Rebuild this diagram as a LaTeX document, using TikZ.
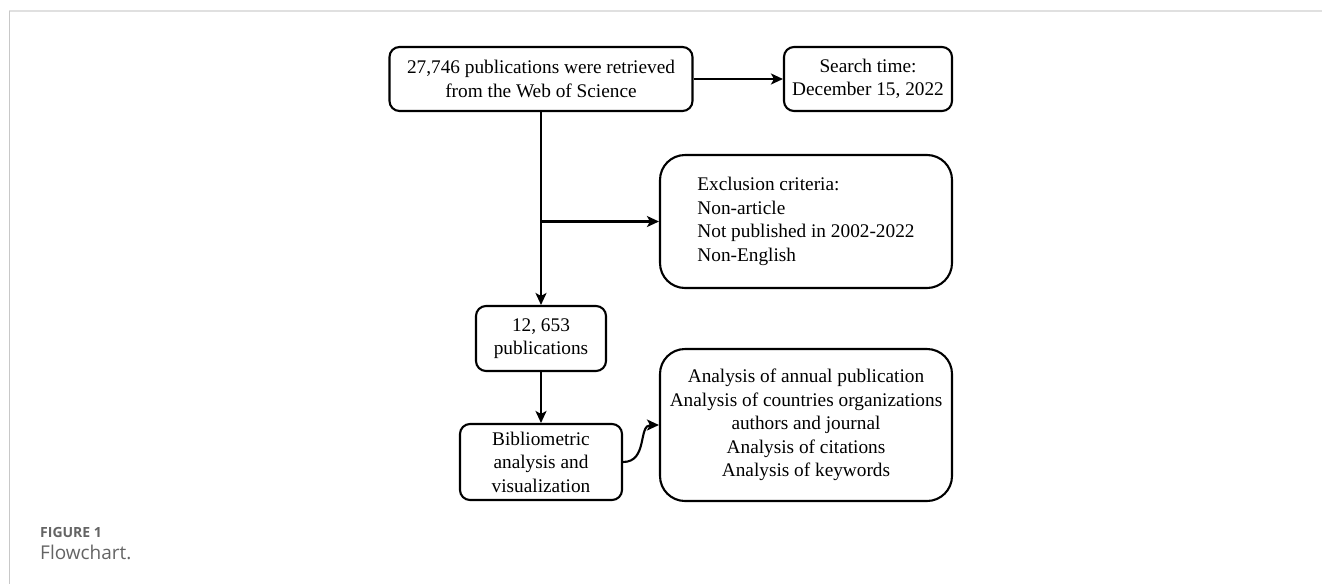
\documentclass[tikz,border=0pt]{standalone}
\usepackage{fontspec}
\setmainfont{Liberation Serif}
\newfontfamily\capfont{Open Sans}
\usetikzlibrary{arrows.meta}
\definecolor{frametop}{RGB}{224,224,224}
\definecolor{frameleft}{RGB}{200,200,200}
\definecolor{capgray}{RGB}{100,100,100}
\begin{document}
\begin{tikzpicture}[x=1pt,y=-1pt,
  box/.style={draw, line width=2.1pt, rounded corners=10pt, align=center,
    font=\fontsize{19.3}{23.5}\selectfont, inner sep=0pt},
  bigbox/.style={box, rounded corners=25pt},
  conn/.style={line width=2.1pt, -{Stealth[length=12pt,width=11pt,inset=3pt]}},
  capstyle/.style={anchor=base west, inner sep=0pt, text=capgray}]
\useasboundingbox (0,0) rectangle (1322,584);
\draw[frametop, line width=1.5pt] (9,11) -- (1322,11);
\draw[frameleft, line width=1pt] (9,11) -- (9,584);

\node[box, minimum width=303pt, minimum height=64pt] (b1) at (541,79)
  {27,746 publications were retrieved\\from the Web of Science};
\node[box, minimum width=168pt, minimum height=64pt] (b2) at (868,79)
  {Search time:\\December 15, 2022};
\node[bigbox, minimum width=292pt, minimum height=133pt, align=left] (ex) at (806,221.5)
  {Exclusion criteria:\\Non-article\\Not published in 2002-2022\\Non-English};
\node[box, minimum width=130pt, minimum height=65pt] (b3) at (541,338.5)
  {12, 653\\publications};
\node[box, minimum width=162pt, minimum height=76pt] (b4) at (541,462)
  {Bibliometric\\analysis and\\visualization};
\node[bigbox, minimum width=292pt, minimum height=152pt] (b5) at (806,425)
  {Analysis of annual publication\\Analysis of countries organizations\\authors and journal\\Analysis of citations\\Analysis of keywords};

\coordinate (br) at (b1.south |- ex.west);
\draw[conn] (b1.east) -- (b2.west);
\draw[conn] (b1.south) -- (b3.north);
\draw[conn] (br) -- (ex.west);
\draw[conn] (b3.south) -- (b4.north);
\draw[conn] (b4.east) .. controls (648,462) and (638,425) .. (b5.west);

\node[capstyle, font=\capfont\bfseries\fontsize{14}{16}\selectfont] (fig) at (40,537) {FIGURE 1};
\node[capstyle, font=\capfont\fontsize{19}{22}\selectfont] (cap) at (40,559) {Flowchart.};
\end{tikzpicture}
\end{document}
